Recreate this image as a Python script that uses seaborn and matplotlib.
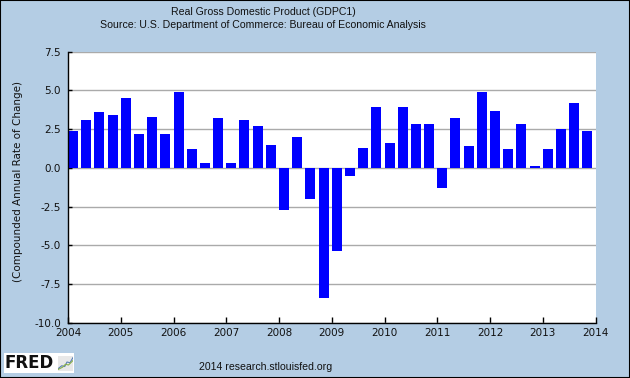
import matplotlib
matplotlib.use("Agg")
import matplotlib.pyplot as plt
from matplotlib.patches import Rectangle
import numpy as np
import pandas as pd
import seaborn as sns

# ---- data ----
start_year = 2004
quarters_per_year = 4
gdp_growth = [2.4, 3.1, 3.6, 3.4,
              4.5, 2.2, 3.3, 2.2,
              4.9, 1.2, 0.3, 3.2,
              0.3, 3.1, 2.7, 1.5,
              -2.7, 2.0, -2.0, -8.4,
              -5.4, -0.5, 1.3, 3.9,
              1.6, 3.9, 2.8, 2.8,
              -1.3, 3.2, 1.4, 4.9,
              3.7, 1.2, 2.8, 0.1,
              1.2, 2.5, 4.2, 2.4]
year_ticks = list(range(2004, 2015))
y_ticks = [-10.0, -7.5, -5.0, -2.5, 0.0, 2.5, 5.0, 7.5]
title = "Real Gross Domestic Product (GDPC1)"
subtitle = "Source: U.S. Department of Commerce: Bureau of Economic Analysis"
ylabel = "(Compounded Annual Rate of Change)"
footer = "2014 research.stlouisfed.org"

# ---- figure ----
BG = "#b4cde4"
sns.set_style("white")
plt.rcParams["font.family"] = ["DejaVu Sans"]
plt.rcParams["font.size"] = 7.5

W, H = 630, 378
fig = plt.figure(figsize=(W / 100, H / 100), dpi=100)
fig.patch.set_facecolor(BG)

left, right, top, bottom = 68, 595.5, 51.7, 322.7
ax = fig.add_axes([left / W, 1 - bottom / H, (right - left) / W, (bottom - top) / H])
ax.set_facecolor("white")
ax.patch.set_edgecolor("none")

qlen = 1.0 / quarters_per_year
bar_frac = 0.76
q_start = [start_year + i * qlen for i in range(len(gdp_growth))]
df = pd.DataFrame({"x": [s + qlen * bar_frac / 2 for s in q_start], "value": gdp_growth})

sns.barplot(data=df, x="x", y="value", native_scale=True, width=bar_frac,
            color="#0000ff", saturation=1, edgecolor="none", linewidth=0, ax=ax, zorder=3)

ax.set_xlim(year_ticks[0], year_ticks[-1])
ax.set_ylim(-10, 7.5)
ax.set_xticks(year_ticks)
ax.set_xticklabels([str(y) for y in year_ticks])
ax.set_yticks(y_ticks)
ax.set_yticklabels([f"{v:.1f}" for v in y_ticks])
ax.set_xlabel("")
ax.set_ylabel("")
ax.grid(axis="y", color="#aaaaaa", linewidth=1, zorder=0)
ax.grid(axis="x", visible=False)
ax.set_axisbelow(True)
for s in ["top", "right"]:
    ax.spines[s].set_visible(False)
for s in ["left", "bottom"]:
    ax.spines[s].set_visible(True)
    ax.spines[s].set_color("black")
    ax.spines[s].set_linewidth(1)
    ax.spines[s].set_zorder(5)
ax.tick_params(axis="x", direction="in", length=4, width=1, color="black",
               labelsize=7.5, pad=4, labelcolor="#111111", bottom=True)
ax.tick_params(axis="y", direction="in", length=3, width=1, color="black",
               labelsize=7.5, pad=5, labelcolor="#111111", left=True)

# texts
hdr_font = ["Liberation Sans", "DejaVu Sans"]
cx = 263 / W
fig.text(cx, 1 - 12 / H, title, ha="center", va="center", fontsize=7.6,
         family=hdr_font, color="#111111")
fig.text(cx, 1 - 25.5 / H, subtitle, ha="center", va="center", fontsize=7.6,
         family=hdr_font, color="#111111")
fig.text(18.5 / W, 1 - 182 / H, ylabel, rotation=90,
         ha="center", va="center", fontsize=7.5, color="#111111")
fig.text(265.5 / W, 1 - 367 / H, footer, ha="center", va="center", fontsize=7.6,
         family=hdr_font, color="#111111")

# FRED logo box
fig.patches.append(Rectangle((4 / W, 1 - 373 / H), 70 / W, 20 / H,
                             transform=fig.transFigure, facecolor="white",
                             edgecolor="none", zorder=1))
fig.text(5 / W, 1 - 363 / H, "FRED", ha="left", va="center", fontsize=12,
         fontweight="bold", color="#111111", zorder=2)
icon = fig.add_axes([58 / W, 1 - 371 / H, 15 / W, 15 / H])
icon.set_zorder(4)
icon.set_facecolor("#e8e8e8")
icon.plot([0, 0.25, 0.45, 0.6, 0.8, 1.0], [0.15, 0.35, 0.3, 0.6, 0.55, 0.9], color="#5a7fb5", lw=0.8)
icon.plot([0, 0.3, 0.5, 0.7, 1.0], [0.1, 0.25, 0.45, 0.4, 0.7], color="#8ab04a", lw=0.8)
icon.set_xlim(0, 1); icon.set_ylim(0, 1)
icon.set_xticks([]); icon.set_yticks([])
for s in icon.spines.values():
    s.set_visible(False)

# figure border
fig.patches.append(Rectangle((0, 0), 1, 1, transform=fig.transFigure, fill=False,
                             edgecolor="black", linewidth=1.5, zorder=10))

fig.savefig("out.png", dpi=100, facecolor=fig.get_facecolor())
